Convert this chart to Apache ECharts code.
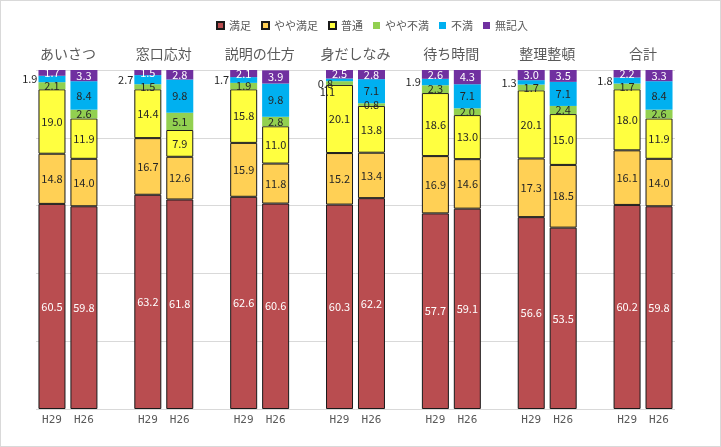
<!DOCTYPE html>
<html>
<head>
<meta charset="utf-8">
<script src="https://cdn.jsdelivr.net/npm/echarts@6/dist/echarts.min.js"></script>
<style>
html,body{margin:0;padding:0;background:#fff;}
#c{width:719px;height:445px;border:1px solid #d9d9d9;}
</style>
</head>
<body>
<div id="c"></div>
<script>
// Groups and years
var groups = ['あいさつ', '窓口応対', '説明の仕方', '身だしなみ', '待ち時間', '整理整頓', '合計'];
var years = ['H29', 'H26'];
var seriesNames = ['満足', 'やや満足', '普通', 'やや不満', '不満', '無記入'];
// values per series, ordered group by group: [H29, H26, H29, H26, ...]
var manzoku    = [60.5, 59.8, 63.2, 61.8, 62.6, 60.6, 60.3, 62.2, 57.7, 59.1, 56.6, 53.5, 60.2, 59.8];
var yayaManzoku= [14.8, 14.0, 16.7, 12.6, 15.9, 11.8, 15.2, 13.4, 16.9, 14.6, 17.3, 18.5, 16.1, 14.0];
var futsu      = [19.0, 11.9, 14.4,  7.9, 15.8, 11.0, 20.1, 13.8, 18.6, 13.0, 20.1, 15.0, 18.0, 11.9];
var yayaFuman  = [ 2.1,  2.6,  1.5,  5.1,  1.9,  2.8,  1.1,  0.8,  2.3,  2.0,  1.7,  2.4,  1.7,  2.6];
var fuman      = [ 1.9,  8.4,  2.7,  9.8,  1.7,  9.8,  0.8,  7.1,  1.9,  7.1,  1.3,  7.1,  1.8,  8.4];
var mukinyu    = [ 1.7,  3.3,  1.5,  2.8,  2.1,  3.9,  2.5,  2.8,  2.6,  4.3,  3.0,  3.5,  2.2,  3.3];
var yTicks = [0, 20, 40, 60, 80, 100];

var allValues = [manzoku, yayaManzoku, futsu, yayaFuman, fuman, mukinyu];
var colors = ['#B94D50', '#FFD055', '#FFFF40', '#92D050', '#00B0F0', '#7030A0'];
var bordered = [true, true, true, false, false, false];
var labelColors = ['#ffffff', '#262626', '#262626', '#262626', '#262626', '#ffffff'];

// x categories: H29, H26, (blank) per group
var cats = [];
groups.forEach(function (g, gi) {
  cats.push(years[0], years[1]);
  if (gi < groups.length - 1) cats.push('');
});

function buildData(vals, si) {
  var out = [];
  groups.forEach(function (g, gi) {
    for (var yi = 0; yi < 2; yi++) {
      var v = vals[gi * 2 + yi];
      var item = { value: v };
      if (yi === 0) {
        var smallPair = yayaFuman[gi * 2] < 1.2;
        if (si === 4) {
          item.label = { position: 'left', distance: 1, offset: smallPair ? [8, 4] : [0, 0] };
        } else if (si === 3 && v < 1.2) {
          item.label = { position: 'left', distance: 1, offset: [10, 9] };
        }
      }
      out.push(item);
    }
    if (gi < groups.length - 1) out.push('-');
  });
  return out;
}

var series = seriesNames.map(function (name, si) {
  return {
    name: name,
    type: 'bar',
    stack: 'total',
    barWidth: 27,
    xAxisIndex: 0,
    data: buildData(allValues[si], si),
    itemStyle: {
      color: colors[si],
      borderColor: bordered[si] ? '#1a1a1a' : colors[si],
      borderWidth: bordered[si] ? 1 : 0
    },
    label: {
      show: true,
      position: 'inside',
      color: labelColors[si],
      fontSize: 11,
      fontFamily: 'Noto Sans CJK JP',
      formatter: function (p) { return Number(p.value).toFixed(1); }
    },
    emphasis: { disabled: true }
  };
});

var groupPos = groups.map(function (g, gi) { return gi * 3 + 1; });

var chart = echarts.init(document.getElementById('c'));
chart.setOption({
  animation: false,
  textStyle: { fontFamily: 'Noto Sans CJK JP' },
  legend: {
    data: seriesNames,
    left: 210,
    top: 14,
    itemWidth: 7,
    itemHeight: 7,
    itemGap: 10,
    icon: 'rect',
    textStyle: { color: '#595959', fontSize: 11, fontFamily: 'Noto Sans CJK JP' }
  },
  grid: { left: 35, right: 45, top: 69, bottom: 37 },
  xAxis: [
    {
      type: 'category',
      data: cats,
      axisLine: { show: false },
      axisTick: { show: false },
      axisLabel: { interval: 0, color: '#595959', fontSize: 11, margin: 6, fontFamily: 'DejaVu Sans Mono' }
    },
    {
      type: 'value',
      position: 'top',
      min: 0,
      max: cats.length,
      axisLine: { show: false },
      axisTick: { show: false },
      splitLine: { show: false },
      axisLabel: {
        customValues: groupPos,
        formatter: function (v) { return groups[Math.round((v - 1) / 3)]; },
        color: '#595959',
        fontSize: 14,
        margin: 9,
        fontFamily: 'Noto Sans CJK JP'
      }
    }
  ],
  yAxis: {
    type: 'value',
    min: yTicks[0],
    max: yTicks[yTicks.length - 1],
    interval: 20,
    axisLabel: { show: false },
    axisLine: { show: false },
    axisTick: { show: false },
    splitLine: { lineStyle: { color: '#d9d9d9' } }
  },
  series: series
});
</script>
</body>
</html>
